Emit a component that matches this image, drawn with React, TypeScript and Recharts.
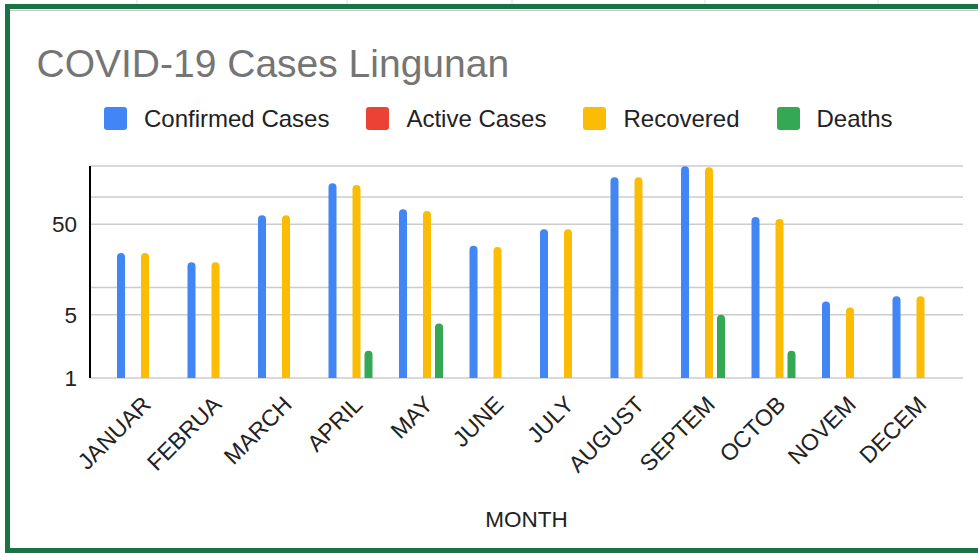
import { BarChart, Bar, XAxis, YAxis, CartesianGrid, Legend } from 'recharts';

const months = ["JANUAR", "FEBRUA", "MARCH", "APRIL", "MAY", "JUNE", "JULY", "AUGUST", "SEPTEM", "OCTOB", "NOVEM", "DECEM"];
const confirmed = [24, 19, 63, 142, 73, 29, 44, 165, 218, 60, 7, 8];
const active = [0, 0, 0, 0, 0, 0, 0, 0, 0, 0, 0, 0];
const recovered = [24, 19, 63, 136, 70, 28, 44, 165, 213, 57, 6, 8];
const deaths = [0, 0, 0, 2, 4, 0, 0, 0, 5, 2, 0, 0];
const yTicks = [1, 5, 10, 50, 100];
const yLabels = [1, 5, 50];

const series = [
    { key: 'confirmed', name: 'Confirmed Cases', color: '#4285f4' },
    { key: 'active', name: 'Active Cases', color: '#ea4335' },
    { key: 'recovered', name: 'Recovered', color: '#fbbc04' },
    { key: 'deaths', name: 'Deaths', color: '#34a853' },
];

// log scale can't show zeros, so leave them empty
const nz = (v: number) => (v > 0 ? v : null);

const data = months.map((m, i) => ({
    month: m,
    confirmed: nz(confirmed[i]),
    active: nz(active[i]),
    recovered: nz(recovered[i]),
    deaths: nz(deaths[i]),
}));

const FONT = "'Liberation Sans', Arial, sans-serif";

const XTick = ({ x, y, payload }: any) => (
    <text
        transform={`translate(${x + 13},${y + 28}) rotate(-45)`}
        textAnchor="end"
        fontSize={23}
        fill="#222"
    >
        {payload.value}
    </text>
);

const YTick = ({ x, y, payload }: any) =>
    yLabels.includes(payload.value) ? (
        <text x={x} y={y} dy={8} textAnchor="end" fontSize={22.5} fill="#222">
            {payload.value}
        </text>
    ) : null;

// keep the series order instead of recharts' sorted payload
const LegendContent = () => (
    <div style={{ display: 'flex', alignItems: 'center', height: 23, paddingLeft: 104, fontSize: 24, lineHeight: '24px', color: '#222' }}>
        {series.map((s) => (
            <div key={s.key} style={{ display: 'flex', alignItems: 'center', marginRight: 37 }}>
                <span style={{ width: 23, height: 23, borderRadius: 3, background: s.color, marginRight: 17 }} />
                <span style={{ whiteSpace: 'nowrap' }}>{s.name}</span>
            </div>
        ))}
    </div>
);

export default function App() {
    return (
        <div style={{ position: 'absolute', left: 0, top: 0, width: 978, height: 553, overflow: 'hidden', background: '#fff', fontFamily: FONT }}>
            {/* sheet cells peeking above the chart */}
            <svg width={978} height={12} style={{ position: 'absolute', left: 0, top: 0 }}>
                {[137, 347, 512, 705, 878].map((gx) => (
                    <line key={gx} x1={gx} x2={gx} y1={0} y2={4} stroke="#ddd" />
                ))}
                <line x1={10} x2={978} y1={10.5} y2={10.5} stroke="#c8c8c8" />
            </svg>
            <div style={{ position: 'absolute', left: 5, top: 4, width: 1100, height: 539, border: '5px solid #1a7343' }} />

            <div style={{ position: 'absolute', left: 0, top: 0 }}>
                <BarChart
                    width={978}
                    height={553}
                    data={data}
                    margin={{ top: 166, right: 15, bottom: 0, left: 10 }}
                    barSize={8}
                    barGap={4}
                >
                    <CartesianGrid vertical={false} stroke="#cccccc" strokeWidth={1.5} />
                    <XAxis
                        dataKey="month"
                        interval={0}
                        height={175}
                        axisLine={false}
                        tickLine={false}
                        tickSize={0}
                        tickMargin={0}
                        padding={{ left: 14, right: 13 }}
                        tick={<XTick />}
                        label={{ value: 'MONTH', position: 'insideBottom', offset: 26, fontSize: 22.5, fill: '#222' }}
                    />
                    <YAxis
                        scale="log"
                        domain={[1, 220]}
                        ticks={yTicks}
                        width={80}
                        axisLine={{ stroke: '#000', strokeWidth: 2 }}
                        tickLine={false}
                        tickSize={0}
                        tickMargin={13}
                        tick={<YTick />}
                    />
                    <Legend
                        verticalAlign="middle"
                        align="center"
                        layout="horizontal"
                        wrapperStyle={{ top: 107, left: 0, width: 978 }}
                        content={<LegendContent />}
                    />
                    {series.map((s) => (
                        <Bar key={s.key} dataKey={s.key} name={s.name} fill={s.color} radius={[4, 4, 0, 0]} isAnimationActive={false} />
                    ))}
                </BarChart>
            </div>

            <svg width={978} height={100} style={{ position: 'absolute', left: 0, top: 0, pointerEvents: 'none' }}>
                <text x={36.5} y={76.7} fontSize={39} fill="#757575">COVID-19 Cases Lingunan</text>
            </svg>
        </div>
    );
}
